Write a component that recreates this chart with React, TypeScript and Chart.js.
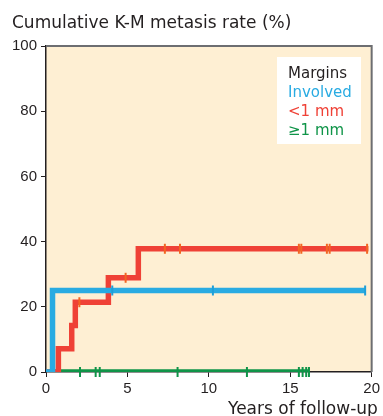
import React, { useEffect, useRef } from "react";
import { Chart, registerables } from "chart.js";

Chart.register(...registerables);

// ---- data ----
const chartTitle = "Cumulative K-M metasis rate (%)";
const xAxisTitle = "Years of follow-up";
const legendTitle = "Margins";
const seriesNames = ["Involved", "<1 mm", "≥1 mm"];
const seriesColors = ["#29abe2", "#ef4136", "#0f9448"];
const censorColors = ["#1e9fd8", "#f26522", "#0f9448"];

const xTicks = [0, 5, 10, 15, 20];
const yTicks = [0, 20, 40, 60, 80, 100];

// step curves (time, cumulative rate after that time)
const involvedTimes = [0, 0.4, 19.6];
const involvedRates = [0, 25, 25];
const under1Times = [0, 0.76, 1.58, 1.8, 3.83, 5.67, 19.8];
const under1Rates = [0, 7.1, 14.3, 21.4, 28.9, 37.8, 37.8];
const over1Times = [0, 16.15];
const over1Rates = [0, 0];

// censoring marks
const involvedCensorTimes = [4.07, 10.25, 19.6];
const involvedCensorRates = [25, 25, 25];
const under1CensorTimes = [2.05, 4.89, 7.3, 8.23, 15.53, 15.68, 17.25, 17.42, 19.72];
const under1CensorRates = [21.4, 28.9, 37.8, 37.8, 37.8, 37.8, 37.8, 37.8, 37.8];
const over1CensorTimes = [2.09, 3.05, 3.3, 8.08, 12.34, 15.53, 15.76, 15.98, 16.15];
const over1CensorRates = [0, 0, 0, 0, 0, 0, 0, 0, 0];

const toPts = (xs: number[], ys: number[]) => xs.map((x, i) => ({ x, y: ys[i] }));

const FONT = "'Liberation Sans', Arial, Helvetica, sans-serif";
const TFONT = "'DejaVu Sans', 'Liberation Sans', sans-serif";
const INK = "#231f20";

const decorPlugin = {
  id: "decor",
  beforeDraw(chart: any) {
    const { ctx, chartArea: a } = chart;
    ctx.save();
    ctx.fillStyle = "#feefd3";
    ctx.fillRect(a.left, a.top, a.right - a.left, a.bottom - a.top);
    ctx.restore();
  },
  beforeDatasetsDraw(chart: any) {
    const { ctx } = chart;
    ctx.save();
    ctx.fillStyle = "#ffffff";
    ctx.fillRect(277, 57, 84, 87);
    ctx.restore();
  },
  afterDraw(chart: any) {
    const { ctx, chartArea: a } = chart;
    ctx.save();
    ctx.strokeStyle = "#6d6e71";
    ctx.lineWidth = 2;
    ctx.beginPath();
    ctx.moveTo(a.left, a.top);
    ctx.lineTo(a.right, a.top);
    ctx.lineTo(a.right, a.bottom);
    ctx.stroke();

    ctx.fillStyle = INK;
    ctx.textBaseline = "alphabetic";
    ctx.textAlign = "left";
    ctx.font = `17px ${TFONT}`;
    ctx.fillText(chartTitle, 12, 28);
    ctx.fillText(xAxisTitle, 228, 414);

    ctx.font = `15px ${TFONT}`;
    ctx.fillStyle = INK;
    ctx.fillText(legendTitle, 288, 78);
    const baselines = [96.5, 115.5, 134.5];
    seriesNames.forEach((n, i) => {
      ctx.fillStyle = seriesColors[i];
      ctx.fillText(n, 288, baselines[i]);
    });
    ctx.restore();
  },
};

export default function App() {
  const ref = useRef<HTMLCanvasElement | null>(null);
  useEffect(() => {
    document.body.style.margin = "0";
    if (!ref.current) return;
    const lineDs = (label: string, pts: any[], color: string, order: number) => ({
      type: "line" as const,
      label,
      data: pts,
      borderColor: color,
      backgroundColor: color,
      borderWidth: 5.5,
      stepped: "before" as const,
      pointRadius: 0,
      borderCapStyle: "butt" as const,
      borderJoinStyle: "miter" as const,
      fill: false,
      order,
    });
    const censorDs = (label: string, pts: any[], color: string, order: number) => ({
      type: "line" as const,
      label,
      data: pts,
      showLine: false,
      borderColor: color,
      backgroundColor: color,
      pointStyle: "line" as const,
      rotation: 90,
      pointRadius: 5,
      pointBorderWidth: 2,
      borderWidth: 2,
      order,
      clip: false as const,
    });
    const chart = new Chart(ref.current, {
      type: "line",
      data: {
        datasets: [
          censorDs("Involved censored", toPts(involvedCensorTimes, involvedCensorRates), censorColors[0], 0),
          censorDs("<1 mm censored", toPts(under1CensorTimes, under1CensorRates), censorColors[1], 1),
          censorDs("≥1 mm censored", toPts(over1CensorTimes, over1CensorRates), censorColors[2], 2),
          lineDs(seriesNames[0], toPts(involvedTimes, involvedRates), seriesColors[0], 3),
          lineDs(seriesNames[1], toPts(under1Times, under1Rates), seriesColors[1], 4),
          lineDs(seriesNames[2], toPts(over1Times, over1Rates), seriesColors[2], 5),
        ] as any,
      },
      options: {
        animation: false,
        responsive: false,
        devicePixelRatio: 1,
        layout: { padding: { top: 46, right: 11, left: 0, bottom: 0 } },
        plugins: {
          legend: { display: false },
          tooltip: { enabled: false },
          title: { display: false },
        },
        scales: {
          x: {
            type: "linear",
            min: 0,
            max: 20,
            afterBuildTicks: (s: any) => {
              s.ticks = xTicks.map((v) => ({ value: v }));
            },
            afterFit: (s: any) => {
              s.height = 44;
            },
            ticks: {
              color: INK,
              font: { family: FONT, size: 15 },
              padding: 3,
              maxRotation: 0,
            },
            grid: {
              drawOnChartArea: false,
              drawTicks: true,
              tickLength: 5,
              color: INK,
              lineWidth: 1,
            },
            border: { display: true, color: INK, width: 1.5 },
          },
          y: {
            type: "linear",
            min: 0,
            max: 100,
            afterBuildTicks: (s: any) => {
              s.ticks = yTicks.map((v) => ({ value: v }));
            },
            afterFit: (s: any) => {
              s.width = 46;
            },
            ticks: {
              color: INK,
              font: { family: FONT, size: 15 },
              padding: 4,
            },
            grid: {
              drawOnChartArea: false,
              drawTicks: true,
              tickLength: 5,
              color: INK,
              lineWidth: 1,
            },
            border: { display: true, color: INK, width: 1.5 },
          },
        },
      },
      plugins: [decorPlugin],
    });
    return () => chart.destroy();
  }, []);
  return <canvas ref={ref} width={383} height={416} style={{ display: "block" }} />;
}
